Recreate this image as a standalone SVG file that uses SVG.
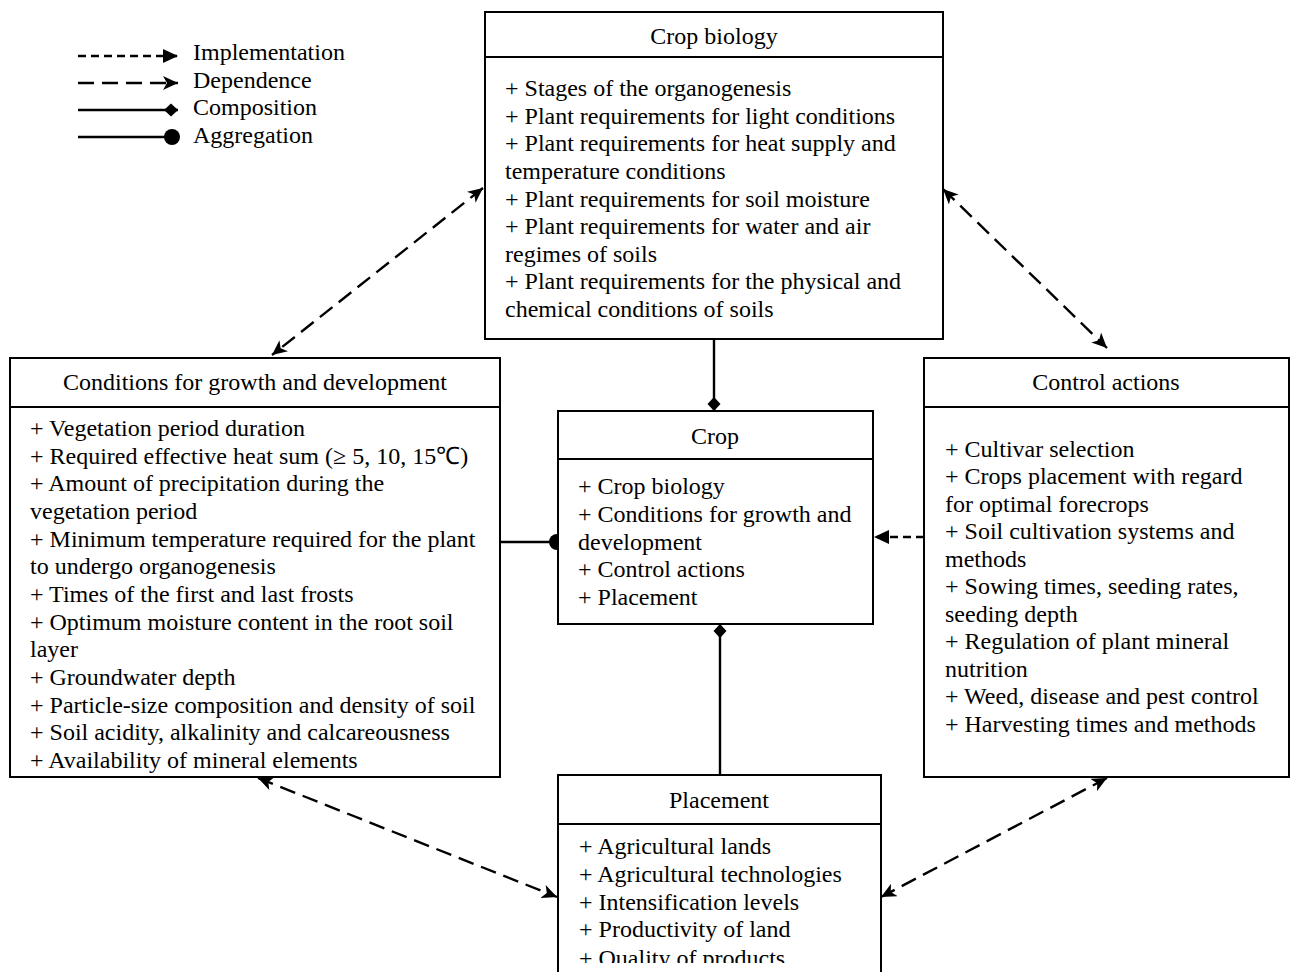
<svg xmlns="http://www.w3.org/2000/svg" width="1290" height="972" viewBox="0 0 1290 972">
<style>
  .box { fill: #fff; stroke: #000; stroke-width: 2; }
  .sep { stroke: #000; stroke-width: 2; }
  text { font-family: "Liberation Serif", "Times New Roman", serif; font-size: 24px; fill: #000; }
  .title { text-anchor: middle; }
  .solid { stroke: #000; stroke-width: 2.4; fill: none; }
  .impl { stroke: #000; stroke-width: 2.4; fill: none; stroke-dasharray: 8 5; }
  .dep { stroke: #000; stroke-width: 2.4; fill: none; stroke-dasharray: 16 8; }
</style>
<defs>
  <marker id="tri" markerUnits="userSpaceOnUse" markerWidth="16" markerHeight="14" refX="15" refY="7" orient="auto-start-reverse" viewBox="0 0 16 14">
    <path d="M0,0 L15,7 L0,14 Z" fill="#000"/>
  </marker>
  <marker id="stealth" markerUnits="userSpaceOnUse" markerWidth="16" markerHeight="14" refX="15" refY="7" orient="auto-start-reverse" viewBox="0 0 16 14">
    <path d="M0,0 L15,7 L0,14 L4,7 Z" fill="#000"/>
  </marker>
  <marker id="diamond" markerUnits="userSpaceOnUse" markerWidth="15" markerHeight="14" refX="14" refY="7" orient="auto" viewBox="0 0 15 14">
    <path d="M0,7 L7,0.5 L14,7 L7,13.5 Z" fill="#000"/>
  </marker>
  <marker id="dot" markerUnits="userSpaceOnUse" markerWidth="18" markerHeight="18" refX="9" refY="9" orient="auto" viewBox="0 0 18 18">
    <circle cx="9" cy="9" r="8" fill="#000"/>
  </marker>
  <clipPath id="cut">
    <rect x="0" y="0" width="1290" height="963"/>
  </clipPath>
</defs>
<rect width="1290" height="972" fill="#fff"/>

<g id="legend">
  <line class="impl" x1="78" y1="56" x2="178" y2="56" marker-end="url(#tri)"/>
  <text x="193" y="60">Implementation</text>
  <line class="dep" x1="78" y1="83" x2="178" y2="83" marker-end="url(#stealth)"/>
  <text x="193" y="88">Dependence</text>
  <line class="solid" x1="78" y1="110" x2="178" y2="110" marker-end="url(#diamond)"/>
  <text x="193" y="115">Composition</text>
  <line class="solid" x1="78" y1="137" x2="172" y2="137" marker-end="url(#dot)"/>
  <text x="193" y="143">Aggregation</text>
</g>

<g id="connectors">
  <line class="solid" x1="714" y1="339" x2="714" y2="411" marker-end="url(#diamond)"/>
  <line class="solid" x1="720" y1="775" x2="720" y2="624" marker-end="url(#diamond)"/>
  <line class="solid" x1="500" y1="542" x2="557" y2="542" marker-end="url(#dot)"/>
  <line class="impl" x1="924" y1="537" x2="874" y2="537" marker-end="url(#tri)"/>
  <line class="dep" x1="483" y1="188" x2="272" y2="355" marker-start="url(#stealth)" marker-end="url(#stealth)"/>
  <line class="dep" x1="943" y1="189" x2="1107" y2="348" marker-start="url(#stealth)" marker-end="url(#stealth)"/>
  <line class="dep" x1="258" y1="778" x2="557" y2="897" marker-start="url(#stealth)" marker-end="url(#stealth)"/>
  <line class="dep" x1="1107" y1="778" x2="881" y2="897" marker-start="url(#stealth)" marker-end="url(#stealth)"/>
</g>

<g id="crop-biology">
  <rect class="box" x="485" y="12" width="458" height="327"/>
  <line class="sep" x1="485" y1="57" x2="943" y2="57"/>
  <text class="title" x="714" y="44">Crop biology</text>
  <text x="505" y="96">+ Stages of the organogenesis</text>
  <text x="505" y="123.5">+ Plant requirements for light conditions</text>
  <text x="505" y="151">+ Plant requirements for heat supply and</text>
  <text x="505" y="179">temperature conditions</text>
  <text x="505" y="206.5">+ Plant requirements for soil moisture</text>
  <text x="505" y="234">+ Plant requirements for water and air</text>
  <text x="505" y="262">regimes of soils</text>
  <text x="505" y="289">+ Plant requirements for the physical and</text>
  <text x="505" y="317">chemical conditions of soils</text>
</g>

<g id="conditions">
  <rect class="box" x="10" y="358" width="490" height="419"/>
  <line class="sep" x1="10" y1="407" x2="500" y2="407"/>
  <text class="title" x="255" y="390">Conditions for growth and development</text>
  <text x="30" y="436">+ Vegetation period duration</text>
  <text x="30" y="463.5">+ Required effective heat sum (≥ 5, 10, 15℃)</text>
  <text x="30" y="491">+ Amount of precipitation during the</text>
  <text x="30" y="519">vegetation period</text>
  <text x="30" y="546.5">+ Minimum temperature required for the plant</text>
  <text x="30" y="574">to undergo organogenesis</text>
  <text x="30" y="602">+ Times of the first and last frosts</text>
  <text x="30" y="629.5">+ Optimum moisture content in the root soil</text>
  <text x="30" y="657">layer</text>
  <text x="30" y="685">+ Groundwater depth</text>
  <text x="30" y="712.5">+ Particle-size composition and density of soil</text>
  <text x="30" y="740">+ Soil acidity, alkalinity and calcareousness</text>
  <text x="30" y="768">+ Availability of mineral elements</text>
</g>

<g id="crop">
  <rect class="box" x="558" y="411" width="315" height="213"/>
  <line class="sep" x1="558" y1="459" x2="873" y2="459"/>
  <text class="title" x="715" y="444">Crop</text>
  <text x="578" y="494">+ Crop biology</text>
  <text x="578" y="522">+ Conditions for growth and</text>
  <text x="578" y="549.5">development</text>
  <text x="578" y="577">+ Control actions</text>
  <text x="578" y="605">+ Placement</text>
</g>

<g id="control-actions">
  <rect class="box" x="924" y="358" width="365" height="419"/>
  <line class="sep" x1="924" y1="407" x2="1289" y2="407"/>
  <text class="title" x="1106" y="390">Control actions</text>
  <text x="945" y="456.5">+ Cultivar selection</text>
  <text x="945" y="484">+ Crops placement with regard</text>
  <text x="945" y="511.5">for optimal forecrops</text>
  <text x="945" y="539">+ Soil cultivation systems and</text>
  <text x="945" y="566.5">methods</text>
  <text x="945" y="594">+ Sowing times, seeding rates,</text>
  <text x="945" y="621.5">seeding depth</text>
  <text x="945" y="649">+ Regulation of plant mineral</text>
  <text x="945" y="676.5">nutrition</text>
  <text x="945" y="704">+ Weed, disease and pest control</text>
  <text x="945" y="731.5">+ Harvesting times and methods</text>
</g>

<g id="placement">
  <rect class="box" x="558" y="775" width="323" height="220"/>
  <line class="sep" x1="558" y1="824" x2="881" y2="824"/>
  <text class="title" x="719" y="808">Placement</text>
  <text x="579" y="854">+ Agricultural lands</text>
  <text x="579" y="882">+ Agricultural technologies</text>
  <text x="579" y="909.5">+ Intensification levels</text>
  <text x="579" y="937">+ Productivity of land</text>
  <text x="579" y="966" clip-path="url(#cut)">+ Quality of products</text>
</g>
</svg>
